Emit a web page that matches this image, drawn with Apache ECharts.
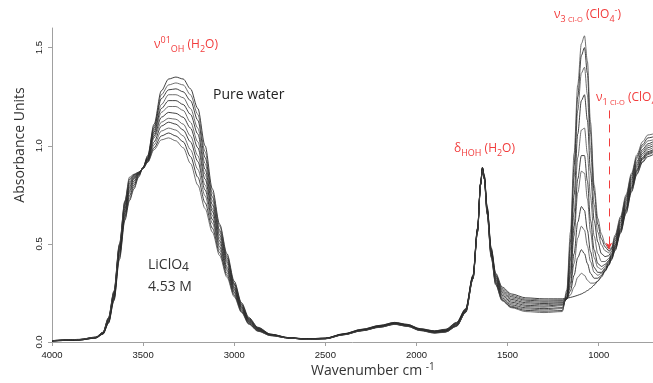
<!DOCTYPE html>
<html>
<head>
<meta charset="utf-8">
<script src="https://cdn.jsdelivr.net/npm/echarts@6/dist/echarts.min.js"></script>
<style>html,body{margin:0;padding:0;background:#fff;}#c{width:653px;height:383px;}</style>
</head>
<body>
<div id="c"></div>
<script>
// Wavenumber grids (cm-1) for the three regions of the spectra
const wavenumberOH = [4000, 3850, 3760, 3720, 3690, 3660, 3630, 3600, 3575, 3550, 3525, 3500, 3475, 3440, 3400, 3360, 3320, 3280, 3240, 3200, 3160, 3120, 3080, 3040, 3000, 2960, 2920, 2870, 2800];
const wavenumberMid = [2700, 2600, 2500, 2400, 2300, 2200, 2120, 2050, 1980, 1900, 1840, 1780, 1730, 1690, 1665, 1648, 1638, 1628, 1612, 1590, 1565, 1530, 1480, 1400, 1300];
const wavenumberClO4 = [1200, 1175, 1155, 1135, 1115, 1095, 1078, 1062, 1045, 1025, 1005, 985, 965, 945, 930, 910, 880, 850, 820, 790, 760, 730, 702];

// Absorbance, one row per spectrum (pure water first, 4.53 M LiClO4 last)
const ohBand = [
 [0.005,0.010,0.020,0.040,0.095,0.210,0.420,0.620,0.720,0.780,0.840,0.890,0.950,1.110,1.280,1.340,1.350,1.340,1.290,1.190,1.000,0.780,0.600,0.450,0.310,0.200,0.125,0.075,0.040],
 [0.005,0.010,0.020,0.041,0.098,0.215,0.430,0.630,0.730,0.790,0.845,0.890,0.945,1.100,1.260,1.310,1.320,1.310,1.260,1.160,0.970,0.760,0.590,0.440,0.300,0.195,0.120,0.073,0.040],
 [0.005,0.010,0.021,0.042,0.100,0.220,0.440,0.640,0.745,0.800,0.850,0.890,0.940,1.090,1.240,1.285,1.290,1.275,1.230,1.130,0.940,0.740,0.570,0.430,0.295,0.190,0.118,0.071,0.039],
 [0.006,0.011,0.021,0.043,0.103,0.225,0.450,0.650,0.760,0.810,0.853,0.888,0.937,1.080,1.210,1.260,1.260,1.245,1.190,1.090,0.910,0.720,0.560,0.420,0.290,0.185,0.115,0.070,0.038],
 [0.006,0.011,0.022,0.044,0.106,0.230,0.460,0.660,0.770,0.820,0.856,0.887,0.934,1.070,1.190,1.230,1.230,1.210,1.160,1.060,0.880,0.700,0.545,0.410,0.280,0.180,0.112,0.068,0.037],
 [0.006,0.011,0.022,0.045,0.109,0.235,0.465,0.670,0.780,0.830,0.858,0.887,0.931,1.060,1.170,1.200,1.200,1.180,1.120,1.020,0.855,0.680,0.530,0.400,0.275,0.177,0.110,0.066,0.037],
 [0.006,0.012,0.023,0.046,0.112,0.240,0.470,0.680,0.790,0.835,0.860,0.886,0.928,1.050,1.145,1.170,1.165,1.145,1.090,0.990,0.830,0.665,0.515,0.385,0.268,0.173,0.106,0.064,0.036],
 [0.006,0.012,0.023,0.047,0.115,0.245,0.480,0.690,0.800,0.840,0.862,0.886,0.925,1.040,1.120,1.140,1.135,1.110,1.050,0.950,0.800,0.645,0.500,0.375,0.260,0.168,0.103,0.062,0.035],
 [0.007,0.012,0.024,0.048,0.118,0.250,0.485,0.700,0.810,0.845,0.863,0.885,0.922,1.020,1.100,1.120,1.110,1.080,1.020,0.920,0.775,0.625,0.485,0.365,0.253,0.163,0.100,0.060,0.034],
 [0.007,0.013,0.024,0.049,0.120,0.253,0.490,0.710,0.820,0.850,0.864,0.885,0.919,1.005,1.075,1.090,1.080,1.050,0.980,0.880,0.745,0.605,0.470,0.352,0.245,0.158,0.096,0.058,0.034],
 [0.007,0.013,0.025,0.050,0.123,0.257,0.495,0.715,0.830,0.853,0.865,0.885,0.917,0.990,1.050,1.065,1.050,1.020,0.945,0.840,0.710,0.580,0.455,0.340,0.237,0.154,0.093,0.056,0.033],
 [0.007,0.013,0.025,0.050,0.125,0.260,0.500,0.720,0.840,0.855,0.865,0.885,0.915,0.980,1.030,1.040,1.025,0.990,0.910,0.800,0.680,0.560,0.440,0.330,0.230,0.150,0.090,0.055,0.032]
];
const midBand = [
 [0.022,0.016,0.020,0.042,0.065,0.085,0.100,0.090,0.068,0.057,0.065,0.100,0.170,0.340,0.580,0.810,0.890,0.850,0.690,0.480,0.350,0.280,0.245,0.225,0.220],
 [0.022,0.016,0.020,0.041,0.064,0.084,0.099,0.089,0.067,0.056,0.064,0.098,0.168,0.338,0.578,0.809,0.889,0.848,0.686,0.475,0.344,0.273,0.238,0.219,0.214],
 [0.021,0.015,0.019,0.041,0.063,0.083,0.098,0.088,0.066,0.055,0.062,0.096,0.166,0.336,0.576,0.808,0.888,0.846,0.682,0.471,0.338,0.266,0.231,0.213,0.208],
 [0.021,0.015,0.019,0.040,0.062,0.082,0.097,0.087,0.065,0.054,0.061,0.094,0.164,0.334,0.574,0.807,0.887,0.844,0.679,0.466,0.333,0.259,0.224,0.207,0.202],
 [0.021,0.015,0.018,0.040,0.061,0.081,0.096,0.086,0.064,0.053,0.059,0.092,0.162,0.332,0.572,0.806,0.886,0.842,0.675,0.462,0.327,0.252,0.217,0.200,0.196],
 [0.021,0.014,0.018,0.039,0.061,0.080,0.095,0.085,0.063,0.052,0.058,0.090,0.160,0.330,0.570,0.805,0.885,0.840,0.671,0.457,0.321,0.245,0.210,0.194,0.190],
 [0.021,0.014,0.018,0.039,0.060,0.079,0.094,0.084,0.062,0.051,0.057,0.088,0.158,0.328,0.568,0.804,0.884,0.838,0.667,0.453,0.316,0.238,0.203,0.187,0.183],
 [0.021,0.014,0.017,0.038,0.059,0.078,0.093,0.083,0.061,0.050,0.055,0.086,0.156,0.326,0.566,0.803,0.883,0.836,0.664,0.448,0.310,0.231,0.196,0.181,0.177],
 [0.020,0.014,0.017,0.038,0.059,0.077,0.092,0.082,0.060,0.048,0.054,0.084,0.154,0.324,0.564,0.802,0.880,0.834,0.660,0.444,0.304,0.224,0.189,0.174,0.170],
 [0.020,0.013,0.017,0.037,0.058,0.076,0.091,0.081,0.060,0.047,0.052,0.082,0.152,0.322,0.562,0.801,0.879,0.832,0.656,0.439,0.299,0.217,0.182,0.168,0.164],
 [0.020,0.013,0.016,0.037,0.057,0.076,0.090,0.080,0.059,0.046,0.051,0.081,0.151,0.321,0.561,0.800,0.877,0.831,0.653,0.435,0.294,0.213,0.178,0.161,0.157],
 [0.020,0.013,0.016,0.036,0.057,0.075,0.090,0.080,0.058,0.045,0.050,0.080,0.150,0.320,0.560,0.800,0.875,0.830,0.650,0.430,0.290,0.210,0.175,0.155,0.150]
];
const clo4Band = [
 [0.220,0.223,0.227,0.232,0.238,0.245,0.253,0.262,0.273,0.290,0.310,0.335,0.362,0.392,0.418,0.465,0.555,0.655,0.765,0.855,0.915,0.945,0.955],
 [0.215,0.220,0.240,0.280,0.330,0.350,0.340,0.315,0.300,0.300,0.310,0.330,0.360,0.390,0.420,0.470,0.560,0.660,0.770,0.860,0.920,0.955,0.965],
 [0.210,0.220,0.260,0.340,0.430,0.470,0.450,0.400,0.350,0.325,0.325,0.340,0.365,0.395,0.425,0.475,0.565,0.670,0.780,0.870,0.930,0.960,0.970],
 [0.205,0.220,0.280,0.400,0.530,0.590,0.570,0.490,0.410,0.355,0.340,0.350,0.370,0.400,0.430,0.480,0.570,0.675,0.785,0.875,0.935,0.965,0.975],
 [0.200,0.220,0.300,0.450,0.610,0.690,0.670,0.570,0.460,0.380,0.355,0.355,0.375,0.405,0.435,0.485,0.575,0.680,0.790,0.880,0.940,0.970,0.980],
 [0.195,0.220,0.330,0.540,0.760,0.870,0.860,0.730,0.560,0.430,0.380,0.370,0.385,0.410,0.440,0.490,0.580,0.690,0.800,0.890,0.950,0.980,0.990],
 [0.190,0.222,0.350,0.590,0.830,0.950,0.950,0.820,0.620,0.470,0.400,0.385,0.395,0.415,0.445,0.495,0.590,0.700,0.810,0.900,0.960,0.990,1.000],
 [0.185,0.225,0.380,0.660,0.940,1.080,1.090,0.960,0.740,0.540,0.450,0.410,0.410,0.425,0.450,0.505,0.600,0.710,0.820,0.910,0.970,1.000,1.010],
 [0.175,0.230,0.420,0.750,1.060,1.230,1.260,1.130,0.870,0.620,0.510,0.450,0.435,0.440,0.460,0.515,0.610,0.720,0.830,0.920,0.980,1.010,1.020],
 [0.170,0.240,0.470,0.840,1.180,1.370,1.400,1.260,0.980,0.700,0.560,0.495,0.465,0.455,0.470,0.525,0.620,0.730,0.840,0.935,0.995,1.025,1.030],
 [0.160,0.250,0.510,0.900,1.250,1.460,1.500,1.370,1.070,0.770,0.600,0.525,0.485,0.465,0.475,0.535,0.630,0.740,0.850,0.945,1.005,1.040,1.045],
 [0.155,0.265,0.560,0.960,1.310,1.520,1.560,1.430,1.120,0.800,0.630,0.550,0.500,0.475,0.480,0.545,0.640,0.750,0.860,0.955,1.020,1.055,1.060]
];

const xTicks = [4000, 3500, 3000, 2500, 2000, 1500, 1000];
const yTicks = [0, 0.5, 1.0, 1.5];
const arrowAt = [944, 1.18, 0.47]; // nu1 Cl-O arrow: wavenumber, from, to

const red = '#f23c3c';
const chart = echarts.init(document.getElementById('c'));

const series = ohBand.map((oh, k) => {
  const data = [];
  wavenumberOH.forEach((w, i) => data.push([w, oh[i]]));
  wavenumberMid.forEach((w, i) => data.push([w, midBand[k][i]]));
  wavenumberClO4.forEach((w, i) => data.push([w, clo4Band[k][i]]));
  return {
    type: 'line', data, showSymbol: false, smooth: 0.3, smoothMonotone: 'x', silent: true,
    lineStyle: { width: 0.8, color: k % 2 ? '#4a4a4a' : '#111' }
  };
});
series[0].markLine = {
  silent: true, symbol: ['none', 'arrow'], symbolSize: [5, 7], label: { show: false },
  lineStyle: { color: red, type: [8, 6], width: 1 },
  data: [[{ coord: [arrowAt[0], arrowAt[1]] }, { coord: [arrowAt[0], arrowAt[2]] }]]
};

const supS = (c) => ({ fontSize: 9, lineHeight: 10, verticalAlign: 'top', fill: c, fontFamily: 'Open Sans' });
const subS = (c) => ({ fontSize: 9, lineHeight: 10, verticalAlign: 'bottom', fill: c, fontFamily: 'Open Sans' });
const mainS = (c, s) => ({ fontSize: s || 12, lineHeight: 18, fill: c, fontFamily: 'Open Sans' });
const richRed = { m: mainS(red), sup: supS(red), sub: subS(red), tiny: { fontSize: 7.5, lineHeight: 10, verticalAlign: 'bottom', fill: red, fontFamily: 'Open Sans' } };

function label(x, y, text, rich) {
  return { type: 'text', left: x, top: y, silent: true, style: { text, rich } };
}

chart.setOption({
  animation: false,
  grid: { left: 52, right: 0, top: 28, bottom: 41, containLabel: false },
  xAxis: {
    type: 'value', inverse: true, min: 702, max: 4000,
    axisLine: { show: true, onZero: false, lineStyle: { color: '#a0a0a0', width: 1 } },
    axisTick: { show: true, customValues: xTicks, length: 4, lineStyle: { color: '#a0a0a0' } },
    axisLabel: { customValues: xTicks, fontSize: 9.5, color: '#222', margin: 8, fontFamily: 'Liberation Sans',
      formatter: (v) => String(v) },
    splitLine: { show: false }
  },
  yAxis: {
    type: 'value', min: 0, max: 1.6,
    axisLine: { show: true, lineStyle: { color: '#a0a0a0', width: 1 } },
    axisTick: { show: true, customValues: yTicks, length: 4, lineStyle: { color: '#a0a0a0' } },
    axisLabel: { customValues: yTicks, rotate: 90, fontSize: 9.5, color: '#222', margin: 8, fontFamily: 'Liberation Sans',
      formatter: (v) => v.toFixed(1) },
    splitLine: { show: false }
  },
  series,
  graphic: [
    { type: 'text', x: 20, y: 145, rotation: Math.PI / 2, silent: true,
      style: { text: 'Absorbance Units', fontSize: 14, fill: '#333', fontFamily: 'Open Sans', align: 'center', verticalAlign: 'middle' } },
    { type: 'text', left: 311, top: 362, silent: true,
      style: { text: '{m|Wavenumber cm }{sup|-1}', rich: { m: mainS('#333', 14), sup: { fontSize: 10, lineHeight: 12, verticalAlign: 'top', fill: '#333', fontFamily: 'Open Sans' } } } },
    label(154, 36, '{m|ν}{sup|01}{sub|OH}{m| (H}{sub|2}{m|O)}', richRed),
    label(454, 143, '{m|δ}{sub|HOH}{m| (H}{sub|2}{m|O)}', richRed),
    label(554, 6, '{m|ν}{sub|3 }{tiny|Cl-O}{m| (ClO}{sub|4}{sup|-}{m|)}', richRed),
    label(596, 92, '{m|ν}{sub|1 }{tiny|Cl-O}{m| (ClO}{sub|4}', richRed),
    { type: 'text', left: 213, top: 88, silent: true,
      style: { text: 'Pure water', fontSize: 14, fill: '#222', fontFamily: 'Open Sans' } },
    { type: 'text', left: 148, top: 258, silent: true,
      style: { text: '{m|LiClO}{s|4}', rich: { m: mainS('#333', 14), s: { fontSize: 12, lineHeight: 18, verticalAlign: 'bottom', fill: '#333', fontFamily: 'Open Sans' } } } },
    { type: 'text', left: 148, top: 280, silent: true,
      style: { text: '4.53 M', fontSize: 14, fill: '#333', fontFamily: 'Open Sans' } }
  ]
});
</script>
</body>
</html>
